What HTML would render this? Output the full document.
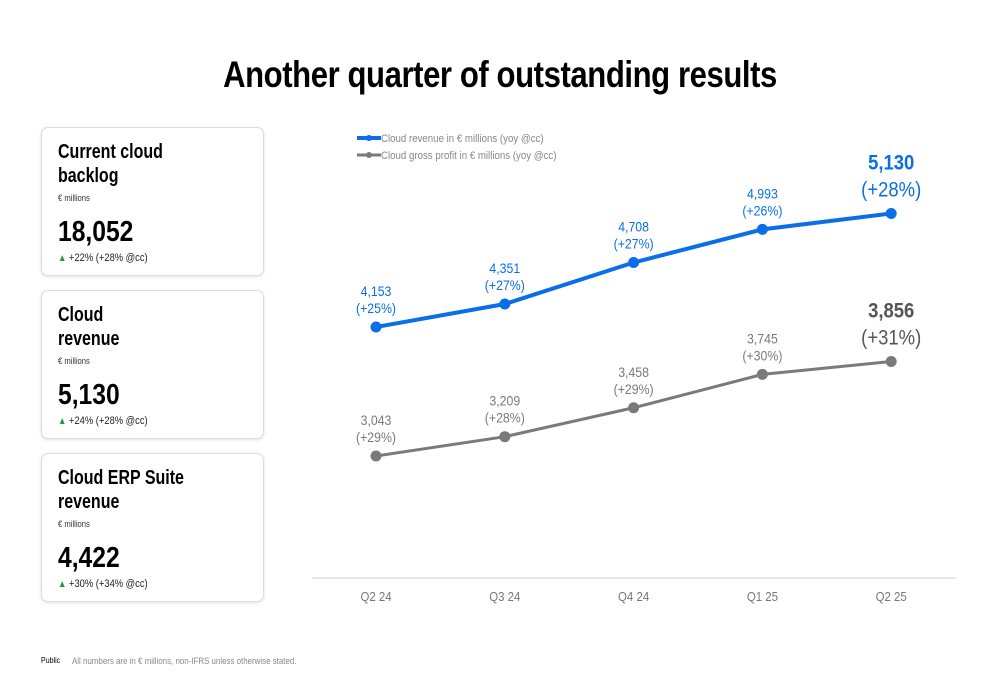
<!DOCTYPE html>
<html><head><meta charset="utf-8">
<style>
body{margin:0;width:1000px;height:685px;background:#fff;font-family:"Liberation Sans",sans-serif;position:relative;overflow:hidden;color:#000}
h1{position:absolute;left:0;width:1000px;top:54px;margin:0;text-align:center;font-size:37px;font-weight:bold;letter-spacing:-0.5px;transform:scaleX(0.84);transform-origin:500px 0}
.card{position:absolute;left:41px;width:221px;height:147px;border:1px solid #ddd;border-radius:7px;box-shadow:0 1px 3px rgba(0,0,0,.12);background:#fff}
.card>div{transform-origin:0 0;white-space:nowrap}
.card .t{position:absolute;left:16px;top:12px;font-size:20px;line-height:24px;font-weight:bold;transform:scaleX(0.8)}
.card .u{position:absolute;left:16px;top:65px;font-size:9px;color:#333;transform:scaleX(0.85)}
.card .v{position:absolute;left:16px;top:88px;font-size:29px;font-weight:bold;transform:scaleX(0.85)}
.card .c{position:absolute;left:16px;top:124px;font-size:11px;color:#222;transform:scaleX(0.85)}
.card .c b{color:#1a9e3a;font-size:10px}
.foot{position:absolute;top:656px;font-size:9px;color:#888;transform:scaleX(0.88);transform-origin:0 0;white-space:nowrap}
</style></head><body>
<h1>Another quarter of outstanding results</h1>
<div class="card" style="top:127px">
<div class="t">Current cloud<br>backlog</div><div class="u">€ millions</div><div class="v">18,052</div><div class="c"><b>▲</b> +22% (+28% @cc)</div></div>
<div class="card" style="top:290px">
<div class="t">Cloud<br>revenue</div><div class="u">€ millions</div><div class="v">5,130</div><div class="c"><b>▲</b> +24% (+28% @cc)</div></div>
<div class="card" style="top:453px">
<div class="t">Cloud ERP Suite<br>revenue</div><div class="u">€ millions</div><div class="v">4,422</div><div class="c"><b>▲</b> +30% (+34% @cc)</div></div>
<div class="foot" style="left:41px;color:#000;font-size:8px">Public</div>
<div class="foot" style="left:72px">All numbers are in € millions, non-IFRS unless otherwise stated.</div>
<svg id="chart" width="1000" height="685" style="position:absolute;left:0;top:0"></svg>
<script>
const categories=["Q2 24","Q3 24","Q4 24","Q1 25","Q2 25"];
const revenue=[4153,4351,4708,4993,5130];
const revenuePct=["+25%","+27%","+27%","+26%","+28%"];
const profit=[3043,3209,3458,3745,3856];
const profitPct=["+29%","+28%","+29%","+30%","+31%"];
const svg=document.getElementById('chart');
const NS='http://www.w3.org/2000/svg';
function x(i){return 376+i*128.8;}
function y(v){return 327-(v-4153)*0.1162;}
function mk(t,a,p){const e=document.createElementNS(NS,t);for(const k in a)e.setAttribute(k,a[k]);(p||svg).appendChild(e);return e;}
function txt(px,py,s,a,p){a.transform='translate('+px+','+py+') scale(0.88,1)';a.x=0;a.y=0;const t=mk('text',a,p);t.textContent=s;return t;}
function fmt(v){return v.toLocaleString('en-US');}
let ax=mk('line',{x1:312,x2:956,y1:578,y2:578,stroke:'#ccc','stroke-width':1});


categories.forEach((c,i)=>{const t=txt(x(i),601,c,{'text-anchor':'middle','font-size':13,fill:'#777'});

});
function series(vals,pcts,color,name,lastCol){
  const pl=mk('polyline',{points:vals.map((v,i)=>x(i)+','+y(v)).join(' '),fill:'none',stroke:color,'stroke-width':name==='revenue'?4:3});
  
  
  vals.forEach((v,i)=>{
    const last=i===vals.length-1;
    const c=mk('circle',{cx:x(i),cy:y(v),r:5.5,fill:color});
    
    
    const t1=txt(x(i),y(v)-(last?44:31),fmt(v),{'text-anchor':'middle','font-size':last?21:14,'font-weight':last?'bold':'normal',fill:last?lastCol:color});
    
    
    const t2=txt(x(i),y(v)-(last?17:14),'('+pcts[i]+')',{'text-anchor':'middle','font-size':last?21:14,fill:last?lastCol:color});
    
    
  });
}
series(profit,profitPct,'#7a7a7a','profit','#555');
series(revenue,revenuePct,'#0a6ee8','revenue','#0a6ee8');
[['#0a6ee8','Cloud revenue in € millions (yoy @cc)',138,4],['#7a7a7a','Cloud gross profit in € millions (yoy @cc)',155,3]].forEach(([col,lab,yy,w])=>{
  const g=mk('g',{});
  
  
  mk('line',{x1:357,x2:381,y1:yy,y2:yy,stroke:col,'stroke-width':w},g);
  mk('circle',{cx:369,cy:yy,r:3,fill:col},g);
  txt(381,yy+4,lab,{'font-size':11,fill:'#888'},g);
});
</script>
</body></html>
